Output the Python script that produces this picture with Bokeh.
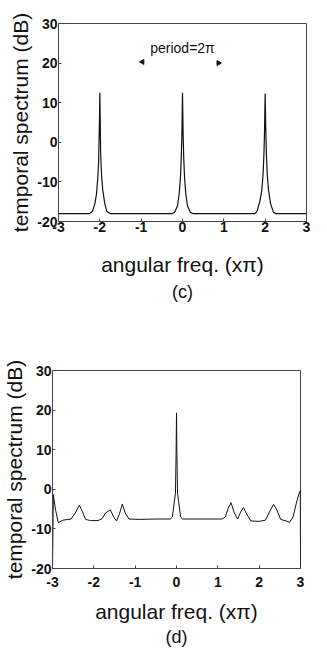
import math
from bokeh.plotting import figure
from bokeh.models import Range1d, FixedTicker, Label, Title
from bokeh.embed import file_html
from bokeh.resources import INLINE

# ---- panel (c): periodic spectrum, period = 2*pi ----
c_x = [-3, -2.25, -2.18, -2.12, -2.08, -2.05, -2.03, -2.02, -2.01, -2.0, -1.99, -1.98,
       -1.96, -1.93, -1.88, -1.83, -1.75,
       -0.25, -0.19, -0.12, -0.08, -0.05, -0.03, -0.015, 0.0, 0.015, 0.03, 0.05, 0.08,
       0.12, 0.19, 0.25,
       1.75, 1.8, 1.87, 1.92, 1.95, 1.97, 1.985, 2.0, 2.015, 2.03, 2.05, 2.08, 2.13,
       2.2, 2.25, 3]
c_y = [-18, -18, -17.5, -15.5, -13, -9, -5, 0, 5, 12.5, 5, -3,
       -8, -12, -15.5, -17.5, -18,
       -18, -17.7, -16, -13, -9, -4, 2, 12.5, 2, -4, -9, -13,
       -16, -17.7, -18,
       -18, -17.5, -15, -12, -8, -3, 3, 12.3, 3, -3, -8, -12, -15.5,
       -17.7, -18, -18]

# ---- panel (d) ----
d_x = [-3.0, -2.98, -2.93, -2.86, -2.75, -2.55, -2.45, -2.35, -2.27, -2.2, -2.08,
       -1.9, -1.8, -1.72, -1.6, -1.52, -1.45, -1.38, -1.31, -1.24, -1.15, -0.9,
       -0.5, -0.15, -0.1, -0.05, -0.025, -0.01, 0.0, 0.01, 0.025, 0.05, 0.1, 0.15,
       0.5, 1.1, 1.18, 1.25, 1.32, 1.4, 1.48, 1.55, 1.62, 1.7, 1.8, 2.0, 2.15,
       2.26, 2.35, 2.43, 2.52, 2.65, 2.73, 2.82, 2.9, 2.96, 2.995, 3.0]
d_y = [-20, -1.3, -5.0, -8.4, -7.8, -7.5, -6.0, -4.0, -5.8, -7.6, -7.9,
       -7.9, -7.4, -6.0, -5.2, -7.0, -8.0, -6.2, -3.7, -6.0, -7.5, -7.6,
       -7.5, -7.5, -7.0, -3.0, -1.0, 9.0, 19.3, 9.0, -1.0, -3.0, -7.0, -7.5,
       -7.5, -7.5, -7.0, -4.8, -3.4, -6.0, -7.5, -5.8, -4.6, -6.3, -8.0, -8.1, -7.8,
       -5.5, -3.8, -5.3, -7.6, -8.0, -8.4, -7.0, -3.5, -1.2, -0.4, -20]

x_ticks = [-3, -2, -1, 0, 1, 2, 3]
y_ticks = [-20, -10, 0, 10, 20, 30]

arrow_x = [-0.97, 0.87]
arrow_y = [20.3, 20.0]
arrow_angle = [math.pi / 2, -math.pi / 2]
period_text = "period=2π"
period_pos = (0.0, 23.8)

FONT = "Liberation Sans"
INK = "#111111"
FRAME = "#444444"


def make_panel(xs, ys, tag, width, height, b_left, b_right, b_top, b_bottom,
               tick_standoff, label_standoff, ylabel_standoff, title_standoff, lw):
    p = figure(width=width, height=height, output_backend="svg", toolbar_location=None,
               x_range=Range1d(-3, 3), y_range=Range1d(-20, 30),
               min_border_left=b_left, min_border_right=b_right, min_border_top=b_top,
               min_border_bottom=b_bottom)
    p.grid.visible = False
    p.outline_line_color = FRAME
    p.outline_line_width = 1
    p.background_fill_color = "white"
    p.border_fill_color = "white"

    p.line(xs, ys, line_color=INK, line_width=lw)

    for ax in (p.xaxis[0], p.yaxis[0]):
        ax.major_tick_in = 3
        ax.major_tick_out = 0
        ax.minor_tick_line_color = None
        ax.axis_line_color = FRAME
        ax.major_tick_line_color = FRAME
        ax.major_label_text_font = FONT
        ax.major_label_text_font_size = "14px"
        ax.major_label_text_font_style = "bold"
        ax.major_label_text_color = INK
        ax.axis_label_text_font = FONT
        ax.axis_label_text_font_size = "21px"
        ax.axis_label_text_font_style = "normal"
        ax.axis_label_text_color = INK

    p.xaxis[0].ticker = FixedTicker(ticks=x_ticks)
    p.yaxis[0].ticker = FixedTicker(ticks=y_ticks)
    p.xaxis[0].major_label_overrides = {t: str(t) for t in x_ticks}
    p.yaxis[0].major_label_overrides = {t: str(t) for t in y_ticks}
    p.xaxis[0].axis_label = "angular freq. (xπ)"
    p.yaxis[0].axis_label = "temporal spectrum (dB)"
    p.xaxis[0].major_label_standoff = tick_standoff
    p.yaxis[0].major_label_standoff = 1
    p.xaxis[0].axis_label_standoff = label_standoff
    p.yaxis[0].axis_label_standoff = ylabel_standoff

    t = Title(text=tag, align="center", text_font=FONT, text_font_size="18px",
              text_font_style="normal", text_color=INK, standoff=title_standoff)
    p.add_layout(t, "below")
    return p


pc = make_panel(c_x, c_y, "(c)", 311, 316, 58, 5, 23, 95, 0, 18, 2, 2, 1.2)
pc.scatter(arrow_x, arrow_y, marker="triangle", size=5, angle=arrow_angle,
           fill_color=INK, line_color=INK)
pc.add_layout(Label(x=period_pos[0], y=period_pos[1], text=period_text,
                    text_align="center", text_baseline="middle", text_font=FONT,
                    text_font_size="14px", text_color=INK))

pd_ = make_panel(d_x, d_y, "(d)", 311, 331, 52, 11, 54, 79, 8, 10, 2, -1, 1.0)

open("out.html", "w").write(file_html([pc, pd_], INLINE))
